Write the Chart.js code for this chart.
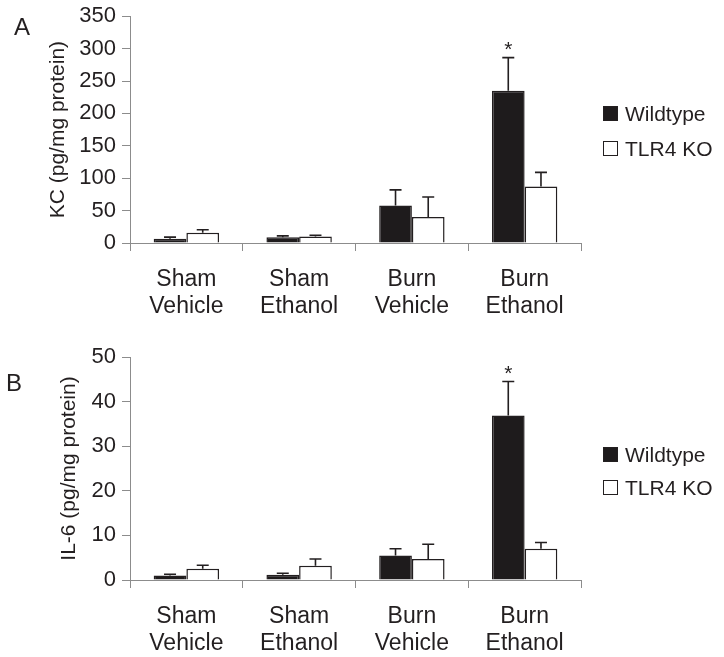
<!DOCTYPE html>
<html>
<head>
<meta charset="utf-8">
<script src="https://cdn.jsdelivr.net/npm/chart.js@4.4.0/dist/chart.umd.min.js"></script>
<style>
  body { margin: 0; background: #fff; font-family: "Liberation Sans", Arial, sans-serif; color: #231f20; }
  .panel { position: absolute; left: 0; width: 724px; }
  .letter { position: absolute; font-size: 24px; line-height: 24px; }
  .legend { position: absolute; left: 603px; font-size: 21px; }
  .legend .row { display: flex; align-items: center; }
  .legend .box { width: 15px; height: 15px; box-sizing: border-box; margin-right: 7px; border: 1.5px solid #231f20; }
</style>
</head>
<body>
<div class="panel" style="top:-3px;height:323px"><canvas id="kcChart"></canvas></div>
<div class="panel" style="top:320px;height:337px"><canvas id="il6Chart"></canvas></div>
<div class="letter" style="left:14px;top:15px">A</div>
<div class="letter" style="left:6px;top:371px">B</div>
<div class="legend" id="legendA" style="top:96px"></div>
<div class="legend" id="legendB" style="top:438px"></div>
<script>
const groups = [["Sham", "Vehicle"], ["Sham", "Ethanol"], ["Burn", "Vehicle"], ["Burn", "Ethanol"]];
const seriesNames = ["Wildtype", "TLR4 KO"];

// panel A - KC
const kcWildtype = [6.5, 9, 58, 235];
const kcWildtypeErr = [2.5, 2, 24, 51];
const kcKO = [16, 10, 40, 87];
const kcKOErr = [4.5, 2, 31, 22];

// panel B - IL-6
const il6Wildtype = [1.0, 1.2, 5.5, 36.9];
const il6WildtypeErr = [0.3, 0.3, 1.5, 7.6];
const il6KO = [2.5, 3.2, 4.7, 7.0];
const il6KOErr = [0.8, 1.5, 3.3, 1.4];

const significant = [false, false, false, true];

const ink = "#231f20";
const axisGray = "#8c8c8c";
Chart.defaults.font.family = '"Liberation Sans", Arial, sans-serif';
Chart.defaults.color = ink;

// one-sided error bars + asterisk
const errorBars = {
  id: "errorBars",
  afterDatasetsDraw(chart) {
    const ctx = chart.ctx;
    const y = chart.scales.y;
    ctx.save();
    ctx.strokeStyle = ink;
    ctx.fillStyle = ink;
    ctx.lineWidth = 1.6;
    ctx.font = '21px "Liberation Sans", Arial, sans-serif';
    ctx.textAlign = "center";
    ctx.textBaseline = "alphabetic";
    chart.data.datasets.forEach((ds, di) => {
      const meta = chart.getDatasetMeta(di);
      meta.data.forEach((bar, i) => {
        const top = y.getPixelForValue(ds.data[i] + ds.errors[i]);
        ctx.beginPath();
        ctx.moveTo(bar.x, bar.y);
        ctx.lineTo(bar.x, top);
        ctx.moveTo(bar.x - 6, top);
        ctx.lineTo(bar.x + 6, top);
        ctx.stroke();
        if (ds.stars && ds.stars[i]) ctx.fillText("*", bar.x, top - 2);
      });
    });
    ctx.restore();
  }
};

function makeConfig(wt, wtErr, ko, koErr, yMax, yStep, yTitle, axisWidth, padTop) {
  return {
    type: "bar",
    data: {
      labels: groups,
      datasets: [
        {
          label: seriesNames[0],
          data: wt,
          errors: wtErr,
          stars: significant,
          backgroundColor: "#1e1b1c",
          borderColor: ink,
          borderWidth: 1.5,
          categoryPercentage: 0.58,
          barPercentage: 1.0,
        },
        {
          label: seriesNames[1],
          data: ko,
          errors: koErr,
          backgroundColor: "#ffffff",
          borderColor: ink,
          borderWidth: 1.5,
          categoryPercentage: 0.58,
          barPercentage: 1.0,
        },
      ],
    },
    options: {
      responsive: true,
      maintainAspectRatio: false,
      animation: false,
      layout: { padding: { left: 130 - axisWidth, top: padTop, right: 143, bottom: 2 } },
      plugins: { legend: { display: false }, tooltip: { enabled: false } },
      scales: {
        x: {
          offset: true,
          afterFit: (s) => { s.height = 75; },
          grid: { offset: true, drawOnChartArea: false, tickLength: 8, color: axisGray },
          border: { color: axisGray },
          ticks: { font: { size: 23, lineHeight: 1.17 }, padding: 15, color: ink, maxRotation: 0 },
        },
        y: {
          min: 0,
          max: yMax,
          afterFit: (s) => { s.width = axisWidth; },
          grid: { drawOnChartArea: false, tickLength: 8, color: axisGray },
          border: { color: axisGray },
          ticks: { stepSize: yStep, font: { size: 22 }, padding: 6, color: ink },
          title: { display: true, text: yTitle, font: { size: 21 }, color: ink, padding: { top: 4, bottom: 4 } },
        },
      },
    },
    plugins: [errorBars],
  };
}

new Chart(document.getElementById("kcChart"),
  makeConfig(kcWildtype, kcWildtypeErr, kcKO, kcKOErr, 350, 50, "KC (pg/mg protein)", 88, 14));
new Chart(document.getElementById("il6Chart"),
  makeConfig(il6Wildtype, il6WildtypeErr, il6KO, il6KOErr, 50, 10, "IL-6 (pg/mg protein)", 77, 37));

function buildLegend(id, rowHeight) {
  const el = document.getElementById(id);
  const fills = ["#1e1b1c", "#ffffff"];
  seriesNames.forEach((name, i) => {
    const row = document.createElement("div");
    row.className = "row";
    row.style.height = rowHeight + "px";
    const box = document.createElement("span");
    box.className = "box";
    box.style.background = fills[i];
    row.appendChild(box);
    row.appendChild(document.createTextNode(name));
    el.appendChild(row);
  });
}
buildLegend("legendA", 35);
buildLegend("legendB", 33);
</script>
</body>
</html>
